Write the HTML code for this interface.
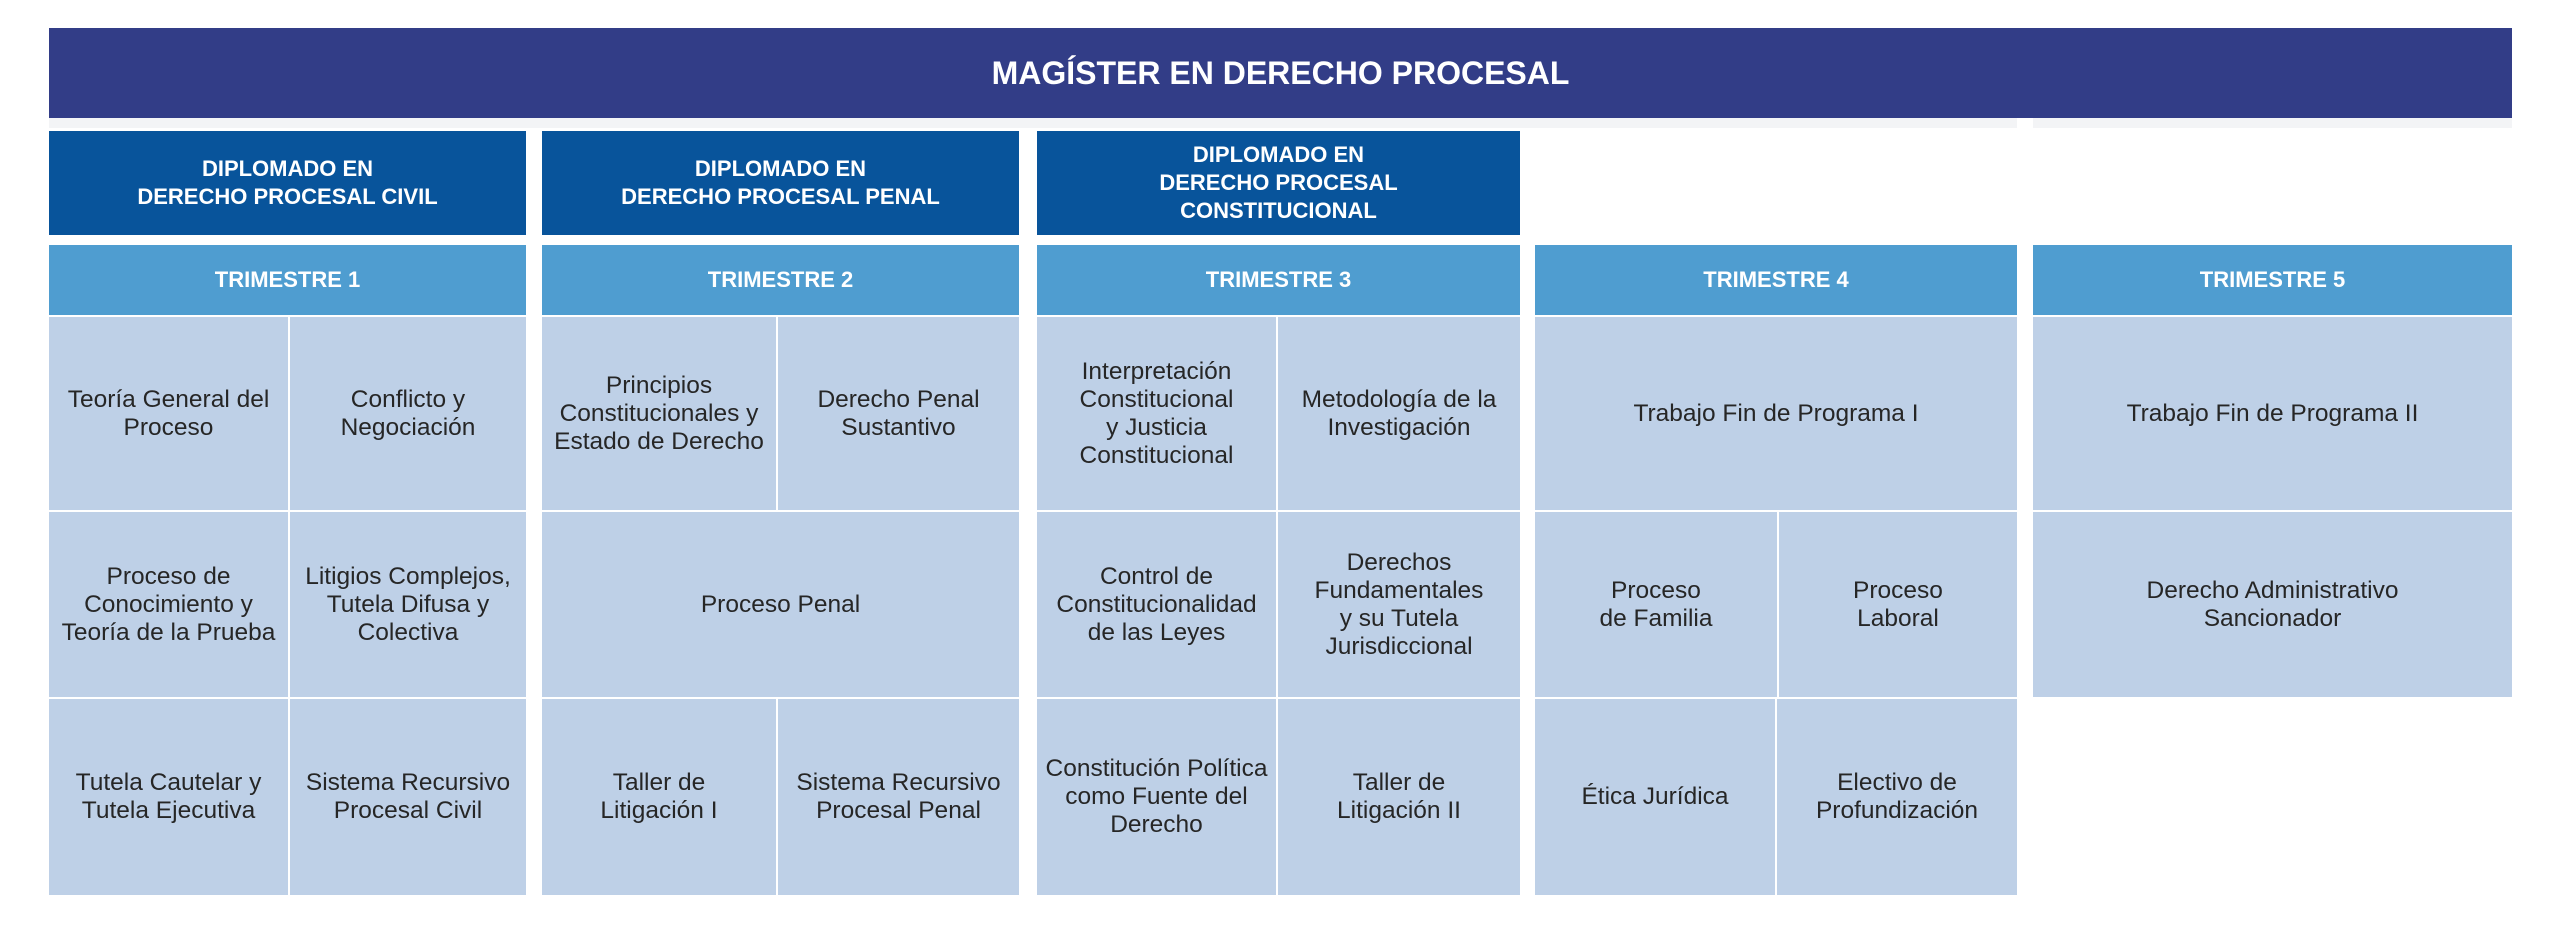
<!DOCTYPE html>
<html><head><meta charset="utf-8"><style>
body{margin:0;width:2560px;height:950px;background:#fff;position:relative;overflow:hidden;font-family:"Liberation Sans",sans-serif}
.b{position:absolute;display:flex;align-items:center;justify-content:center;text-align:center;box-sizing:border-box}
.ban{background:#323d87;color:#fff;font-weight:bold;font-size:32px}
.dip{background:#08549b;color:#fff;font-weight:bold;font-size:22px;line-height:28px}
.tri{background:#4f9dd0;color:#fff;font-weight:bold;font-size:22px}
.c{background:#bed0e7;color:#262626;font-size:24.5px;line-height:28px;padding:0 2px}
.g{position:absolute;background:#f3f4f6}
</style></head><body>
<div class="b ban" style="left:49px;top:28px;width:2463px;height:90px">MAGÍSTER EN DERECHO PROCESAL</div>
<div class="g" style="left:49px;top:118px;width:1968px;height:10px"></div>
<div class="g" style="left:2033px;top:118px;width:479px;height:10px"></div>

<div class="b dip" style="left:49px;top:131px;width:477px;height:104px">DIPLOMADO EN<br>DERECHO PROCESAL CIVIL</div>
<div class="b dip" style="left:542px;top:131px;width:477px;height:104px">DIPLOMADO EN<br>DERECHO PROCESAL PENAL</div>
<div class="b dip" style="left:1037px;top:131px;width:483px;height:104px">DIPLOMADO EN<br>DERECHO PROCESAL<br>CONSTITUCIONAL</div>

<div class="b tri" style="left:49px;top:245px;width:477px;height:70px">TRIMESTRE 1</div>
<div class="b tri" style="left:542px;top:245px;width:477px;height:70px">TRIMESTRE 2</div>
<div class="b tri" style="left:1037px;top:245px;width:483px;height:70px">TRIMESTRE 3</div>
<div class="b tri" style="left:1535px;top:245px;width:482px;height:70px">TRIMESTRE 4</div>
<div class="b tri" style="left:2033px;top:245px;width:479px;height:70px">TRIMESTRE 5</div>

<div class="b c" style="left:49px;top:317px;width:239px;height:193px">Teoría General del<br>Proceso</div>
<div class="b c" style="left:290px;top:317px;width:236px;height:193px">Conflicto y<br>Negociación</div>
<div class="b c" style="left:49px;top:512px;width:239px;height:185px">Proceso de<br>Conocimiento y<br>Teoría de la Prueba</div>
<div class="b c" style="left:290px;top:512px;width:236px;height:185px">Litigios Complejos,<br>Tutela Difusa y<br>Colectiva</div>
<div class="b c" style="left:49px;top:699px;width:239px;height:196px">Tutela Cautelar y<br>Tutela Ejecutiva</div>
<div class="b c" style="left:290px;top:699px;width:236px;height:196px">Sistema Recursivo<br>Procesal Civil</div>

<div class="b c" style="left:542px;top:317px;width:234px;height:193px">Principios<br>Constitucionales y<br>Estado de Derecho</div>
<div class="b c" style="left:778px;top:317px;width:241px;height:193px">Derecho Penal<br>Sustantivo</div>
<div class="b c" style="left:542px;top:512px;width:477px;height:185px">Proceso Penal</div>
<div class="b c" style="left:542px;top:699px;width:234px;height:196px">Taller de<br>Litigación I</div>
<div class="b c" style="left:778px;top:699px;width:241px;height:196px">Sistema Recursivo<br>Procesal Penal</div>

<div class="b c" style="left:1037px;top:317px;width:239px;height:193px">Interpretación<br>Constitucional<br>y Justicia<br>Constitucional</div>
<div class="b c" style="left:1278px;top:317px;width:242px;height:193px">Metodología de la<br>Investigación</div>
<div class="b c" style="left:1037px;top:512px;width:239px;height:185px">Control de<br>Constitucionalidad<br>de las Leyes</div>
<div class="b c" style="left:1278px;top:512px;width:242px;height:185px">Derechos<br>Fundamentales<br>y su Tutela<br>Jurisdiccional</div>
<div class="b c" style="left:1037px;top:699px;width:239px;height:196px">Constitución Política<br>como Fuente del<br>Derecho</div>
<div class="b c" style="left:1278px;top:699px;width:242px;height:196px">Taller de<br>Litigación II</div>

<div class="b c" style="left:1535px;top:317px;width:482px;height:193px">Trabajo Fin de Programa I</div>
<div class="b c" style="left:1535px;top:512px;width:242px;height:185px">Proceso<br>de Familia</div>
<div class="b c" style="left:1779px;top:512px;width:238px;height:185px">Proceso<br>Laboral</div>
<div class="b c" style="left:1535px;top:699px;width:240px;height:196px">Ética Jurídica</div>
<div class="b c" style="left:1777px;top:699px;width:240px;height:196px">Electivo de<br>Profundización</div>

<div class="b c" style="left:2033px;top:317px;width:479px;height:193px">Trabajo Fin de Programa II</div>
<div class="b c" style="left:2033px;top:512px;width:479px;height:185px">Derecho Administrativo<br>Sancionador</div>
</body></html>
